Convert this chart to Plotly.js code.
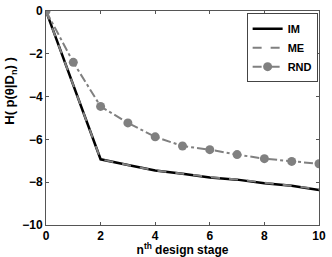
<!DOCTYPE html>
<html><head><meta charset="utf-8">
<script src="https://cdn.plot.ly/plotly-3.0.1.min.js"></script>
<style>body{margin:0;padding:0;background:#fff}#chart{width:332px;height:257px}</style>
</head><body><div id="chart"></div>
<script>
const stages = [0,1,2,3,4,5,6,7,8,9,10];
const imValues  = [0,-3.45,-6.93,-7.2,-7.45,-7.6,-7.78,-7.88,-8.05,-8.17,-8.37];
const meValues  = [0,-3.45,-6.93,-7.2,-7.45,-7.6,-7.76,-7.87,-8.02,-8.14,-8.32];
const rndValues = [0,-2.4,-4.46,-5.23,-5.88,-6.31,-6.48,-6.71,-6.9,-7.03,-7.14];
const xTicks = [0,2,4,6,8,10];
const yTicks = [0,-2,-4,-6,-8,-10];

const font = {family:'"Liberation Sans", Arial, sans-serif', size:12, color:'#000', weight:'bold'};
const legendFont = Object.assign({}, font, {size:11});
const titleFont = Object.assign({}, font, {size:13});
const traces = [
  {x:stages, y:imValues, name:'IM', mode:'lines', line:{color:'#000', width:2.5}},
  {x:stages, y:meValues, name:'ME', mode:'lines', line:{color:'#808080', width:2, dash:'dash'}},
  {x:stages, y:rndValues, name:'RND', mode:'lines+markers', line:{color:'#808080', width:2, dash:'dashdot'}, marker:{color:'#808080', size:9}}
];
const axisCommon = {showgrid:false, zeroline:false, showline:true, linecolor:'#555', linewidth:1, mirror:'ticks', ticks:'inside', ticklen:3, tickcolor:'#555', tickfont:font};
const layout = {
  width:332, height:257,
  margin:{l:46, r:13, t:11, b:32},
  paper_bgcolor:'#fff', plot_bgcolor:'#fff',
  showlegend:true,
  font:font,
  xaxis:Object.assign({}, axisCommon, {range:[0,10], tickvals:xTicks, ticklabelstandoff:0,
    title:{text:'n<sup>th</sup> design stage', font:font, standoff:2}}),
  yaxis:Object.assign({}, axisCommon, {range:[-10,0], tickvals:yTicks, ticktext:['0','\u22122','\u22124','\u22126','\u22128','\u221210'], ticklabelstandoff:0}),
  legend:{x:0.995, y:0.99, xanchor:'right', yanchor:'top', bgcolor:'#fff', bordercolor:'#444', borderwidth:1,
    font:legendFont, itemwidth:30, tracegroupgap:0},
  annotations:[{text:'H( p(θ|D<sub>n</sub>) )', xref:'paper', yref:'paper', x:-0.13, y:0.625, xanchor:'center', yanchor:'middle', textangle:-90, showarrow:false, font:titleFont}]
};
Plotly.newPlot('chart', traces, layout, {displayModeBar:false, staticPlot:true});
</script></body></html>
